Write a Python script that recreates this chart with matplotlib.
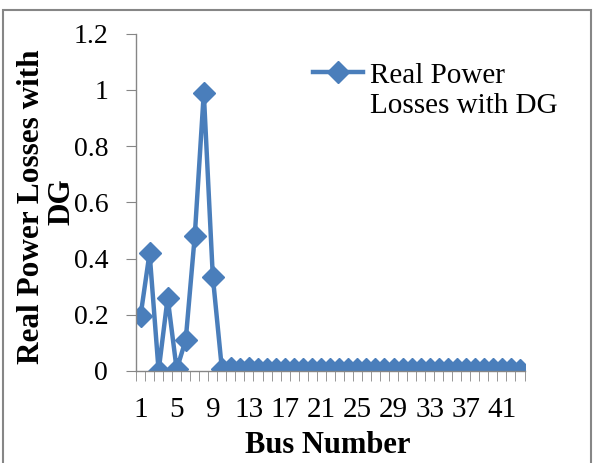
import numpy as np
import matplotlib.pyplot as plt
from matplotlib.patches import Rectangle
from matplotlib.ticker import FixedLocator

# real power losses per bus with DG connected
bus = np.arange(1, 44)
losses = [0.196, 0.42, 0.0, 0.26, 0.005, 0.11, 0.48, 0.99, 0.335, 0.008,
          0.01, 0.008, 0.009, 0.007, 0.006, 0.007, 0.006, 0.005, 0.006, 0.005,
          0.005, 0.006, 0.005, 0.005, 0.005, 0.005, 0.005, 0.005, 0.005, 0.005,
          0.005, 0.005, 0.005, 0.005, 0.005, 0.005, 0.005, 0.005, 0.005, 0.005,
          0.005, 0.005, 0.004]
xtick_pos = list(range(1, 42, 4))
xtick_labels = [str(b) for b in xtick_pos]
yticks = [0, 0.2, 0.4, 0.6, 0.8, 1, 1.2]
ytick_labels = ['0', '0.2', '0.4', '0.6', '0.8', '1', '1.2']

blue = '#4a7ebb'
grey = '#868686'
serif = ['Liberation Serif', 'DejaVu Serif']

fig = plt.figure(figsize=(5.94, 4.63), dpi=100)
ax = fig.add_axes([0.229, 0.199, 0.654, 0.728])

ax.plot(bus, losses, color=blue, lw=3.2, marker='D', ms=11,
        label='Real Power\nLosses with DG', solid_joinstyle='round')

ax.set_xlim(0.5, 43.5)
ax.set_ylim(0, 1.2)
ax.set_yticks(yticks)
ax.set_yticklabels(ytick_labels)
ax.xaxis.set_major_locator(FixedLocator(xtick_pos))
ax.set_xticklabels(xtick_labels)
ax.xaxis.set_minor_locator(FixedLocator(np.arange(0.5, 43.6, 1)))
ax.tick_params(axis='x', which='major', length=0, pad=18.5)
ax.tick_params(axis='x', which='minor', length=7, color=grey, direction='out')
ax.tick_params(axis='y', length=7, color=grey, pad=13)
for lab in ax.get_xticklabels():
    lab.set_fontfamily(serif)
    lab.set_fontsize(21)
for lab in ax.get_yticklabels():
    lab.set_fontfamily(serif)
    lab.set_fontsize(20)

for side in ['top', 'right']:
    ax.spines[side].set_visible(False)
for side in ['left', 'bottom']:
    ax.spines[side].set_color(grey)
    ax.spines[side].set_linewidth(1)

fig.text(0.551, 1 - 453 / 463, 'Bus Number', ha='center', va='baseline',
         fontsize=22, fontweight='bold', family=serif)
# y title wraps onto a second line
fig.text(31.5 / 594, 1 - 206.5 / 463, 'Real Power Losses with', rotation=90,
         ha='center', va='center', fontsize=22.5, fontweight='bold',
         family=serif)
fig.text(62.5 / 594, 1 - 202 / 463, 'DG', rotation=90,
         ha='center', va='center', fontsize=22.5, fontweight='bold',
         family=serif)

leg = ax.legend(loc='upper left', bbox_to_anchor=(313 / 594, 1 - 63 / 463),
                bbox_transform=fig.transFigure, frameon=False,
                prop={'family': serif, 'size': 21}, handlelength=1.72,
                handletextpad=0.24, borderaxespad=0, borderpad=0,
                labelspacing=0)
# line the legend key up with the first line of its label
key = leg.legend_handles[0]
key.set_ydata(np.asarray(key.get_ydata()) + 13.5)

# outer border of the chart area
fig.patches.append(Rectangle((3 / 594, -0.05), 588 / 594, 1 - 10 / 463 + 0.05,
                             transform=fig.transFigure, fill=False,
                             edgecolor=grey, lw=1.5))

fig.savefig('out.png', dpi=100)
